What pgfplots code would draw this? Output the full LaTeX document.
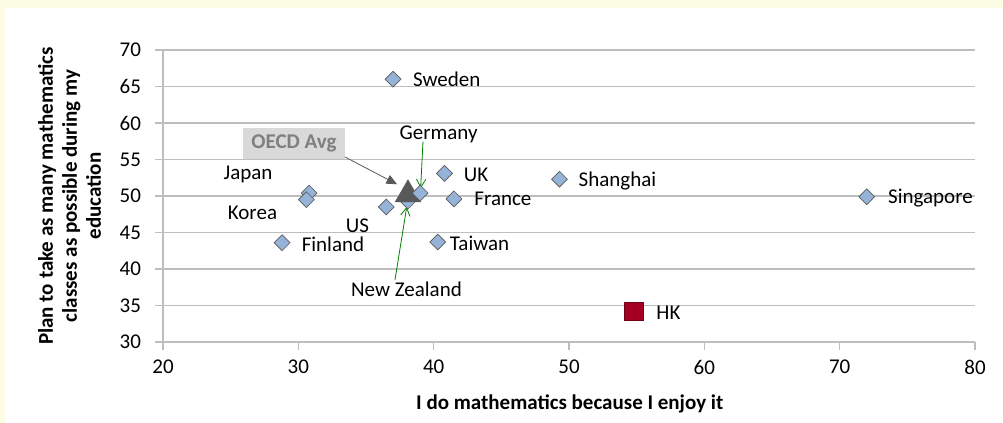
\documentclass[border=0pt]{standalone}
\usepackage{fontspec}
\setmainfont{Carlito}
\usepackage{pgfplots}
\pgfplotsset{compat=1.18}
\usetikzlibrary{arrows.meta}

\definecolor{bgyellow}{RGB}{252,252,228}
\definecolor{gridgray}{RGB}{190,190,190}
\definecolor{ptblue}{RGB}{149,179,215}
\definecolor{ptedge}{RGB}{89,89,89}
\definecolor{hkred}{RGB}{165,0,33}
\definecolor{oecdgray}{RGB}{89,89,89}
\definecolor{boxgray}{RGB}{217,217,217}
\definecolor{boxtext}{RGB}{127,127,127}
\definecolor{arrgreen}{RGB}{0,128,0}

\newcommand{\chartfont}{\fontsize{15.75}{18}\selectfont}

\begin{document}
\begin{tikzpicture}[x=0.75pt,y=0.75pt]
\path[use as bounding box] (0,0) rectangle (1003,423);
\fill[bgyellow] (0,0) rectangle (1003,423);
\fill[white] (5,0) rectangle (1003,415);

\begin{axis}[
    at={(122.25pt,60.75pt)}, anchor=south west,
    scale only axis, width=609pt, height=219pt,
    xmin=20, xmax=80, ymin=30, ymax=70,
    xtick={20,30,...,80}, ytick={30,35,...,70},
    axis x line*=bottom, axis y line*=left,
    axis line style={gridgray, line width=1pt, -},
    tick style={gridgray, line width=1pt},
    tick align=outside, major tick length=6pt,
    ymajorgrids, grid style={gridgray, line width=1pt},
    font=\chartfont,
    /pgf/number format/assume math mode=true,
    yticklabel style={xshift=-7pt},
    xticklabel style={yshift=-4pt},
    xlabel={\bfseries I do mathematics because I enjoy it},
    ylabel={\bfseries Plan to take as many mathematics\\ \bfseries classes as possible during my\\ \bfseries education},
    xlabel style={at={(axis description cs:0.501,-0.212)}, anchor=center},
    ylabel style={at={(axis description cs:-0.115,0.5)}, anchor=center, align=center},
    clip=false,
    diamond/.style={only marks, mark=square*, mark size=4.2pt,
        mark options={rotate=45, fill=ptblue, draw=ptedge, line width=0.5pt}},
]
% countries
\addplot[diamond] coordinates {
    (37.0,66.0) % Sweden
    (30.8,50.4) % Japan
    (30.6,49.5) % Korea
    (28.8,43.6) % Finland
    (36.5,48.5) % US
    (38.1,49.3) % New Zealand
    (40.8,53.1) % UK
    (41.5,49.6) % France
    (40.3,43.7) % Taiwan
    (49.3,52.3) % Shanghai
    (72.0,49.9) % Singapore
};

% OECD average
\addplot[only marks, mark=triangle*, mark size=11pt,
    mark options={fill=oecdgray, draw=oecdgray}] coordinates {(38.1,50.2)};

% Germany sits on top of the triangle
\addplot[diamond] coordinates {(39.0,50.4)};

% Hong Kong
\addplot[only marks, mark=square*, mark size=7pt,
    mark options={fill=hkred, draw=hkred!70!black, line width=0.5pt}] coordinates {(54.8,34.2)};

% labels
\node at (axis cs:40.97,66.0) {Sweden};
\node at (axis cs:26.28,53.0) {Japan};
\node at (axis cs:26.61,47.67) {Korea};
\node at (axis cs:34.37,45.89) {US};
\node at (axis cs:32.56,43.42) {Finland};
\node at (axis cs:43.39,43.56) {Taiwan};
\node at (axis cs:45.12,49.59) {France};
\node at (axis cs:43.13,52.88) {UK};
\node at (axis cs:40.36,58.49) {Germany};
\node at (axis cs:37.99,37.26) {New Zealand};
\node at (axis cs:53.58,52.05) {Shanghai};
\node at (axis cs:76.71,49.73) {Singapore};
\node at (axis cs:57.35,33.97) {HK};
\node[fill=boxgray, text=boxtext, font=\chartfont\bfseries, minimum width=76pt, minimum height=23pt, inner sep=0pt]
    at (axis cs:29.68,57.19) {OECD Avg};

% callout arrows
\draw[oecdgray, line width=0.6pt, -{Triangle[length=8pt,width=7pt]}]
    (axis cs:33.45,55.34) -- (axis cs:37.3,51.6);
\draw[arrgreen, line width=0.6pt, -{Straight Barb[length=6pt,width=7pt]}]
    (axis cs:39.21,57.44) -- (axis cs:39.04,51.1);
\draw[arrgreen, line width=0.6pt, -{Straight Barb[length=6pt,width=7pt]}]
    (axis cs:37.14,38.49) -- (axis cs:38.01,48.5);
\end{axis}
\end{tikzpicture}
\end{document}
